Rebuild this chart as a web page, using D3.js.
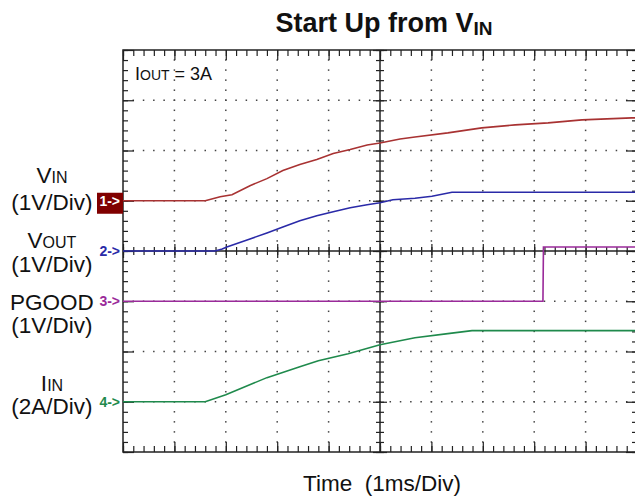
<!DOCTYPE html>
<html>
<head>
<meta charset="utf-8">
<script src="https://cdn.jsdelivr.net/npm/d3@7"></script>
<style>
  body { margin: 0; background: #fff; }
  svg { display: block; font-family: "Liberation Sans", Arial, sans-serif; }
</style>
</head>
<body>
<svg width="635" height="499"></svg>
<script>
var width = 635;
var height = 499;

// scope settings: 10 time divisions (1 ms each), 8 vertical divisions
var timeDivs = [0, 1, 2, 3, 4, 5, 6, 7, 8, 9, 10];
var voltDivs = [-4, -3, -2, -1, 0, 1, 2, 3, 4];

// VIN trace, time in ms, volts (1V/Div)
var vinT = [0, 1.6, 1.89, 2.12, 2.47, 2.8, 3.11, 3.44, 3.77, 4.09, 4.42, 4.75, 5.0, 5.39, 5.68, 6.32, 6.98, 7.63, 8.27, 8.93, 9.9, 10];
var vinV = [0, 0, 0.08, 0.12, 0.3, 0.44, 0.6, 0.72, 0.82, 0.94, 1.02, 1.11, 1.15, 1.23, 1.27, 1.35, 1.45, 1.51, 1.55, 1.61, 1.65, 1.65];

// VOUT trace (1V/Div)
var voutT = [0, 1.79, 1.93, 2.02, 2.47, 2.8, 3.11, 3.44, 3.77, 4.09, 4.42, 4.75, 5.0, 5.25, 5.68, 6.01, 6.4, 10];
var voutV = [0, 0, 0.04, 0.08, 0.24, 0.36, 0.48, 0.6, 0.7, 0.78, 0.86, 0.92, 0.96, 1.02, 1.05, 1.09, 1.17, 1.17];

// PGOOD trace (1V/Div)
var pgoodT = [0, 8.17, 8.18, 10];
var pgoodV = [0, 0, 1.08, 1.08];

// IIN trace (2A/Div)
var iinT = [0, 1.6, 2.0, 2.8, 3.44, 3.8, 4.38, 5.0, 5.68, 6.32, 6.79, 10];
var iinA = [0, 0, 0.28, 0.96, 1.39, 1.63, 1.91, 2.27, 2.55, 2.71, 2.83, 2.83];

var channels = [
  {id: 1, t: vinT, v: vinV, perDiv: 1, offset: 1, color: "#a83232", label: ["V", "IN"], scale: "(1V/Div)"},
  {id: 2, t: voutT, v: voutV, perDiv: 1, offset: 0, color: "#2a2aa8", label: ["V", "OUT"], scale: "(1V/Div)"},
  {id: 3, t: pgoodT, v: pgoodV, perDiv: 1, offset: -1, color: "#9a2a9a", label: ["PGOOD", ""], scale: "(1V/Div)"},
  {id: 4, t: iinT, v: iinA, perDiv: 2, offset: -3, color: "#1f8a4c", label: ["I", "IN"], scale: "(2A/Div)"}
];

var pLeft = 123, pRight = 637, pTop = 50, pBottom = 452;

var xScale = d3.scaleLinear().domain([0, 10]).range([pLeft, pRight]);
var yScale = d3.scaleLinear().domain([-4, 4]).range([pBottom, pTop]);

var svg = d3.select("svg");

// dotted grid
var grid = svg.append("g").attr("fill", "#444");
timeDivs.slice(1, -1).filter(d => d !== 5).forEach(function(d) {
  for (var k = 1; k < 40; k++) {
    grid.append("rect")
      .attr("x", xScale(d) - 0.75).attr("y", yScale(-4 + k / 5) - 0.75)
      .attr("width", 1.5).attr("height", 1.5);
  }
});
voltDivs.slice(1, -1).filter(d => d !== 0).forEach(function(d) {
  for (var k = 1; k < 50; k++) {
    grid.append("rect")
      .attr("x", xScale(k / 5) - 0.75).attr("y", yScale(d) - 0.75)
      .attr("width", 1.5).attr("height", 1.5);
  }
});

// frame
var frame = svg.append("g").attr("stroke", "#222").attr("fill", "none");
frame.append("rect")
  .attr("x", pLeft).attr("y", pTop)
  .attr("width", pRight - pLeft).attr("height", pBottom - pTop)
  .attr("stroke-width", 1.5);

var xMinor = d3.range(0, 10.01, 0.2);
var yMinor = d3.range(-4, 4.01, 0.2);

function styleAxis(g) {
  g.select(".domain").remove();
  g.selectAll("line").attr("stroke", "#222").attr("stroke-width", 1.2);
}
function tickAxis(axisFn, scale, values, size, tx, ty) {
  svg.append("g").attr("transform", "translate(" + tx + "," + ty + ")")
    .call(axisFn(scale).tickValues(values).tickSize(size).tickFormat(""))
    .call(styleAxis);
}

// minor and major ticks on the frame
tickAxis(d3.axisBottom, xScale, xMinor, 6, 0, pTop);
tickAxis(d3.axisTop, xScale, xMinor, 6, 0, pBottom);
tickAxis(d3.axisRight, yScale, yMinor, 5, pLeft, 0);
tickAxis(d3.axisLeft, yScale, yMinor, 5, pRight, 0);
tickAxis(d3.axisBottom, xScale, timeDivs, 10, 0, pTop);
tickAxis(d3.axisTop, xScale, timeDivs, 10, 0, pBottom);
tickAxis(d3.axisRight, yScale, voltDivs, 11, pLeft, 0);
tickAxis(d3.axisLeft, yScale, voltDivs, 11, pRight, 0);

// centre cross
var cx = xScale(5), cy = yScale(0);
frame.append("line").attr("x1", cx).attr("x2", cx).attr("y1", pTop).attr("y2", pBottom).attr("stroke-width", 1.5);
frame.append("line").attr("x1", pLeft).attr("x2", pRight).attr("y1", cy).attr("y2", cy).attr("stroke-width", 1.5);
tickAxis(d3.axisLeft, yScale, yMinor, 4, cx, 0);
tickAxis(d3.axisRight, yScale, yMinor, 4, cx, 0);
tickAxis(d3.axisLeft, yScale, voltDivs, 7, cx, 0);
tickAxis(d3.axisRight, yScale, voltDivs, 7, cx, 0);
tickAxis(d3.axisTop, xScale, xMinor, 4, 0, cy);
tickAxis(d3.axisBottom, xScale, xMinor, 4, 0, cy);
tickAxis(d3.axisTop, xScale, timeDivs, 7, 0, cy);
tickAxis(d3.axisBottom, xScale, timeDivs, 7, 0, cy);

// traces
channels.forEach(function(ch) {
  var pts = ch.t.map((t, i) => [t, ch.v[i]]);
  var line = d3.line()
    .x(d => xScale(d[0]))
    .y(d => yScale(ch.offset + d[1] / ch.perDiv));
  svg.append("path")
    .datum(pts)
    .attr("d", line)
    .attr("fill", "none")
    .attr("stroke", ch.color)
    .attr("stroke-width", 1.6);
});

// channel markers
channels.forEach(function(ch) {
  var y = yScale(ch.offset);
  if (ch.id === 1) {
    svg.append("rect").attr("x", 97).attr("y", y - 8).attr("width", 26).attr("height", 21)
      .attr("fill", "#800000");
  }
  svg.append("text")
    .attr("x", 120).attr("y", y + 5)
    .attr("text-anchor", "end")
    .attr("font-size", 14).attr("font-weight", "bold")
    .attr("fill", ch.id === 1 ? "#fff" : ch.color)
    .text(ch.id + "->");
});

// channel labels on the left
var labelY = [[183, 210], [248, 272], [310, 333], [391, 414]];
channels.forEach(function(ch, i) {
  var t = svg.append("text")
    .attr("x", 52).attr("y", labelY[i][0])
    .attr("text-anchor", "middle").attr("font-size", 22.5).attr("fill", "#111");
  t.append("tspan").text(ch.label[0]);
  if (ch.label[1]) t.append("tspan").attr("font-size", 16).text(ch.label[1]);
  svg.append("text")
    .attr("x", 52).attr("y", labelY[i][1])
    .attr("text-anchor", "middle").attr("font-size", 22.5).attr("fill", "#111")
    .text(ch.scale);
});

// IOUT note
var note = svg.append("text").attr("x", 135).attr("y", 80).attr("font-size", 18).attr("fill", "#111");
note.append("tspan").text("I");
note.append("tspan").attr("font-size", 14).text("OUT");
note.append("tspan").text(" = 3A");

// title
var title = svg.append("text")
  .attr("x", 384).attr("y", 32)
  .attr("text-anchor", "middle")
  .attr("font-size", 27).attr("font-weight", "bold").attr("fill", "#111");
title.append("tspan").text("Start Up from V");
title.append("tspan").attr("font-size", 19).attr("dy", 3).text("IN");

// x axis label
svg.append("text")
  .attr("x", 382).attr("y", 491)
  .attr("text-anchor", "middle")
  .attr("font-size", 22.5).attr("fill", "#111")
  .style("white-space", "pre")
  .text("Time  (1ms/Div)");
</script>
</body>
</html>
